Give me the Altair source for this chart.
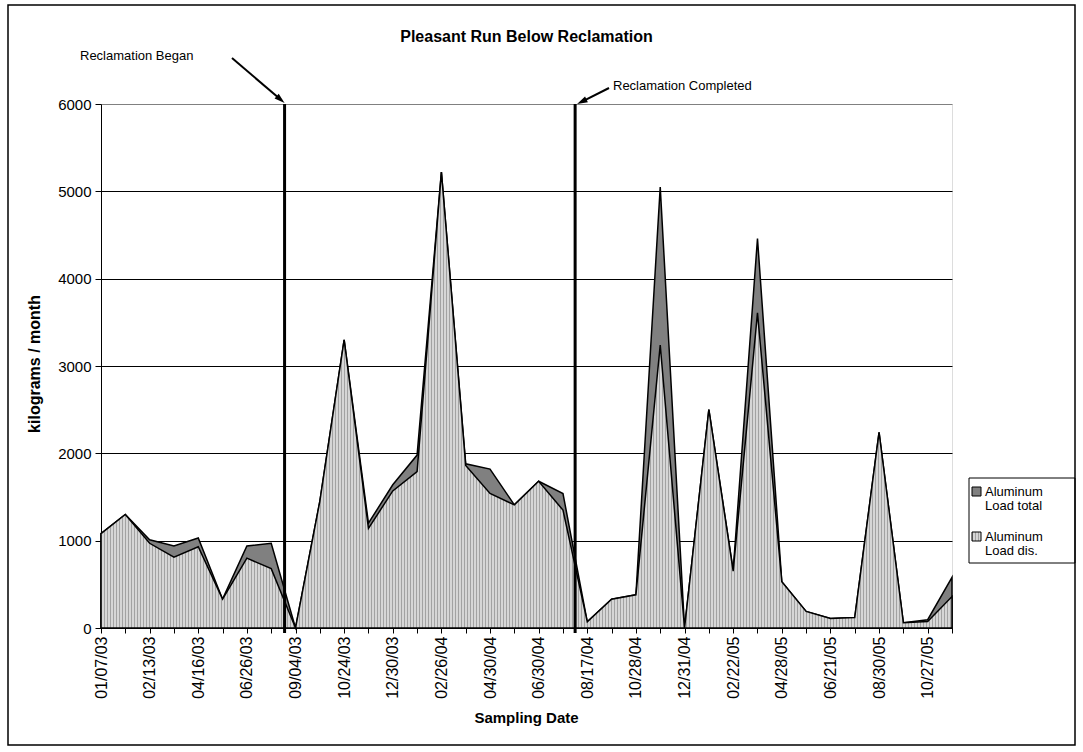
import json
import math
import altair as alt
import pandas as pd

# Sampling dates shown on the axis (every other sample)
tick_labels = [
    "01/07/03", "02/13/03", "04/16/03", "06/26/03", "09/04/03", "10/24/03",
    "12/30/03", "02/26/04", "04/30/04", "06/30/04", "08/17/04", "10/28/04",
    "12/31/04", "02/22/05", "04/28/05", "06/21/05", "08/30/05", "10/27/05",
]

# Aluminum load, kilograms / month, one value per sample
load_total = [
    1080, 1300, 1010, 940, 1030, 330, 940, 970, 0, 1450, 3300, 1200,
    1640, 1980, 5220, 1880, 1820, 1410, 1680, 1540, 70, 330, 380, 5050,
    0, 2500, 660, 4460, 530, 190, 110, 120, 2240, 60, 95, 580,
]
load_dis = [
    1080, 1300, 970, 810, 930, 330, 800, 680, 0, 1450, 3300, 1140,
    1570, 1790, 5220, 1860, 1540, 1410, 1680, 1350, 70, 330, 380, 3240,
    0, 2500, 650, 3610, 530, 190, 110, 120, 2240, 60, 75, 360,
]

# Reclamation events, in sample positions
event_pos = [7.55, 19.5]
event_names = ["Reclamation Began", "Reclamation Completed"]

W, H = 851, 524
FONT = "Liberation Sans"
N = len(load_total)

samples = pd.DataFrame({"idx": list(range(N)), "total": load_total, "dis": load_dis})
events = pd.DataFrame({"pos": event_pos, "name": event_names})
one = pd.DataFrame({"k": [0]})


def stripes(width, period=3.0, dark_px=1.0, dark="#a2a2a2", light="#d6d6d6"):
    """Vertical hatch made of hard-edged gradient stops, one stripe per `period` px."""
    p = period / width
    d = dark_px / width
    stops = []
    a = 0.0
    while a < 1.0:
        b = min(a + d, 1.0)
        c = min(a + p, 1.0)
        stops += [
            alt.GradientStop(color=dark, offset=a),
            alt.GradientStop(color=dark, offset=b),
            alt.GradientStop(color=light, offset=b),
            alt.GradientStop(color=light, offset=c),
        ]
        a += p
    return alt.Gradient(gradient="linear", stops=stops, x1=0, x2=1, y1=0, y2=0)


label_expr = (
    "datum.value % 2 == 0 ? " + json.dumps(tick_labels) + "[datum.value / 2] : ''"
)

x_scale = alt.Scale(domain=[0, N - 1], nice=False, zero=False)
y_scale = alt.Scale(domain=[0, 6000], nice=False)

x_axis = alt.Axis(
    values=list(range(N)),
    labelExpr=label_expr,
    labelAngle=270,
    labelOverlap=False,
    labelFontSize=16,
    labelFont=FONT,
    labelColor="black",
    labelPadding=3,
    tickSize=5,
    tickColor="black",
    domainColor="black",
    grid=False,
    title=None,
)
y_axis = alt.Axis(
    values=[0, 1000, 2000, 3000, 4000, 5000, 6000],
    format="d",
    labelFontSize=15,
    labelFont=FONT,
    labelColor="black",
    labelPadding=4,
    tickSize=6,
    tickColor="black",
    domainColor="black",
    grid=True,
    gridColor={"condition": {"test": "datum.value == 6000", "value": "#808080"},
               "value": "#000000"},
    gridWidth=1,
    title=None,
)

total_area = alt.Chart(samples).mark_area(
    color="#808080", stroke="black", strokeWidth=1.5, strokeJoin="miter"
).encode(
    x=alt.X("idx:Q", scale=x_scale, axis=x_axis),
    y=alt.Y("total:Q", scale=y_scale, axis=y_axis),
)

dis_area = alt.Chart(samples).mark_area(
    color=stripes(W), stroke="black", strokeWidth=1.5, strokeJoin="miter"
).encode(
    x=alt.X("idx:Q", scale=x_scale, axis=x_axis),
    y=alt.Y("dis:Q", scale=y_scale, axis=y_axis),
)

event_rules = alt.Chart(events).mark_rule(color="black", strokeWidth=3).encode(
    x=alt.X("pos:Q", scale=x_scale, axis=x_axis),
    y=alt.value(0),
    y2=alt.value(H + 5),
)


def arrow(x0, y0, x1, y1):
    dx, dy = x1 - x0, y1 - y0
    L = math.hypot(dx, dy)
    ux, uy = dx / L, dy / L
    shaft = alt.Chart(one).mark_rule(color="black", strokeWidth=2).encode(
        x=alt.value(x0), y=alt.value(y0),
        x2=alt.value(x1 - ux * 6), y2=alt.value(y1 - uy * 6),
    )
    ang = math.degrees(math.atan2(dx, -dy)) % 360
    head = alt.Chart(one).mark_point(
        shape="M0,-1L0.6,1L-0.6,1Z", filled=True, color="black",
        opacity=1, size=110, angle=ang, strokeWidth=0,
    ).encode(x=alt.value(x1 - ux * 5.2), y=alt.value(y1 - uy * 5.2))
    return shaft + head


def text(s, x, y, size=13, weight="normal", align="left", angle=0, baseline="middle"):
    return alt.Chart(one).mark_text(
        text=s, fontSize=size, fontWeight=weight, align=align, angle=angle,
        baseline=baseline, font=FONT, color="black",
    ).encode(x=alt.value(x), y=alt.value(y))


x_began = event_pos[0] * W / (N - 1)
x_done = event_pos[1] * W / (N - 1)

arrow_began = arrow(131, -46, x_began, -1)
arrow_done = arrow(508, -16, x_done + 2, 0)

# Legend
leg_box = alt.Chart(one).mark_rect(fill="white", stroke="black", strokeWidth=1).encode(
    x=alt.value(868), x2=alt.value(974), y=alt.value(374), y2=alt.value(459),
)
leg_dark = alt.Chart(one).mark_rect(color="#808080", stroke="black", strokeWidth=1).encode(
    x=alt.value(871), x2=alt.value(880), y=alt.value(383), y2=alt.value(392),
)
leg_light = alt.Chart(one).mark_rect(color=stripes(9), stroke="black", strokeWidth=1).encode(
    x=alt.value(871), x2=alt.value(880), y=alt.value(428), y2=alt.value(437),
)
legend = (
    leg_box + leg_dark + leg_light
    + text("Aluminum", 884, 388) + text("Load total", 884, 402)
    + text("Aluminum", 884, 433) + text("Load dis.", 884, 447)
)

frame = alt.Chart(one).mark_rect(fill="transparent", stroke="black", strokeWidth=1.5).encode(
    x=alt.value(-93), x2=alt.value(974), y=alt.value(-99), y2=alt.value(641),
)

labels = (
    text("Pleasant Run Below Reclamation", W / 2, -67, size=16, weight="bold", align="center")
    + text("Sampling Date", W / 2, 614, size=15, weight="bold", align="center")
    + text("kilograms / month", -66, H / 2 - 2, size=16, weight="bold", align="center", angle=270)
    + text(event_names[0], -21, -48, align="left")
    + text(event_names[1], 512, -18, align="left")
)

chart = alt.layer(
    total_area, dis_area, event_rules, arrow_began, arrow_done, legend, frame, labels,
).properties(
    width=W,
    height=H,
    padding={"left": 101, "top": 104, "right": 131, "bottom": 124},
    autosize="none",
    background="white",
).configure_view(
    stroke="#808080", strokeWidth=1,
).configure(
    font=FONT,
)

chart.save("out.html", embed_options={"renderer": "svg", "actions": False})
